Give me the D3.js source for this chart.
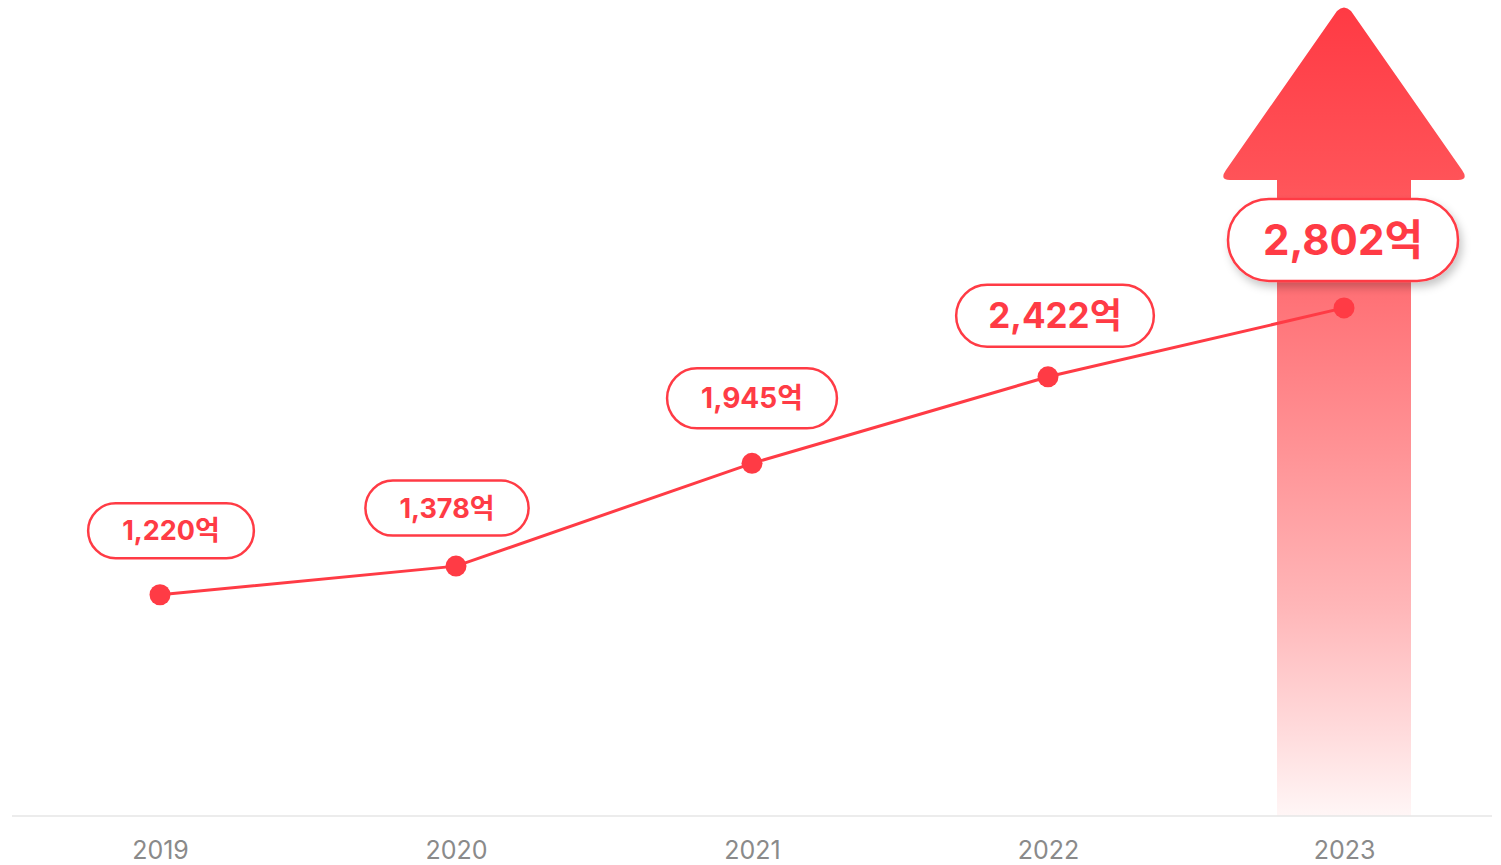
<!DOCTYPE html>
<html><head><meta charset="utf-8">
<script src="https://cdn.jsdelivr.net/npm/d3@7"></script>
<style>
html,body{margin:0;padding:0;background:#fff;}
svg{display:block;}
</style></head>
<body>
<svg id="chart" width="1501" height="865"></svg>
<script>
const years = ["2019","2020","2021","2022","2023"];
const values = [1220, 1378, 1945, 2422, 2802];
const valueLabels = ["1,220억","1,378억","1,945억","2,422억","2,802억"];

const W = 1501, H = 865;
const svg = d3.select("#chart");
const red = "#ff3b45";
const baseY = 816;

const x = d3.scalePoint().domain(years).range([160, 1344]);
const y = d3.scaleLinear().domain([0, 4500]).range([baseY, 0]);

const defs = svg.append("defs");
const grad = defs.append("linearGradient").attr("id","arrowGrad")
  .attr("gradientUnits","userSpaceOnUse").attr("x1",0).attr("x2",0).attr("y1",8).attr("y2",baseY);
[[0,"#ff3a44"],[0.22,"#ff5459"],[0.36,"#ff7277"],[0.55,"#ff9396"],[0.74,"#ffb6b8"],[0.9,"#ffdcdd"],[1,"#fff6f6"]]
  .forEach(([o,c])=>grad.append("stop").attr("offset",o).attr("stop-color",c));
const shadow = defs.append("filter").attr("id","shadow").attr("x","-20%").attr("y","-30%").attr("width","140%").attr("height","170%");
shadow.append("feDropShadow").attr("dx",3).attr("dy",5).attr("stdDeviation",4).attr("flood-color","#000").attr("flood-opacity",0.22);

// arrow behind last point
const ax = x(years[years.length-1]);
const shaftHalf = 67, headHalf = 121, headTop = 8, headBase = 180, r = 7;
const arrowPath = d3.path();
arrowPath.moveTo(ax - shaftHalf, baseY);
arrowPath.lineTo(ax - shaftHalf, headBase);
arrowPath.lineTo(ax - headHalf + r, headBase);
arrowPath.quadraticCurveTo(ax - headHalf - 4, headBase, ax - headHalf + 3, headBase - 10);
arrowPath.lineTo(ax - 7, headTop + 3);
arrowPath.quadraticCurveTo(ax, headTop - 4, ax + 7, headTop + 3);
arrowPath.lineTo(ax + headHalf - 3, headBase - 10);
arrowPath.quadraticCurveTo(ax + headHalf + 4, headBase, ax + headHalf - r, headBase);
arrowPath.lineTo(ax + shaftHalf, headBase);
arrowPath.lineTo(ax + shaftHalf, baseY);
arrowPath.closePath();
svg.append("path").attr("d", arrowPath.toString()).attr("fill","url(#arrowGrad)");

// baseline
svg.append("line").attr("x1",12).attr("x2",1492).attr("y1",baseY).attr("y2",baseY)
  .attr("stroke","#e6e6e6").attr("stroke-width",1.5);

// x axis labels
const xAxis = d3.axisBottom(x).tickSize(0).tickPadding(0);
const gx = svg.append("g").attr("transform",`translate(0,${baseY})`).call(xAxis);
gx.select(".domain").remove();
gx.selectAll("text").attr("y",35).attr("dy","0.32em")
  .attr("font-family","Inter, 'Noto Sans', sans-serif").attr("font-size",25)
  .attr("fill","#8a8a8a").attr("font-weight",400);

// line
const data = years.map((yr,i)=>({yr, v: values[i], label: valueLabels[i], i}));
svg.append("path").datum(data)
  .attr("d", d3.line().x(d=>x(d.yr)).y(d=>y(d.v)))
  .attr("fill","none").attr("stroke",red).attr("stroke-width",3);

svg.selectAll("circle.pt").data(data).join("circle").attr("class","pt")
  .attr("cx",d=>x(d.yr)).attr("cy",d=>y(d.v)).attr("r",10.5).attr("fill",red);

// labels
const fontSizes = [27, 27, 28, 35, 42];
const boxH = [55, 55, 60, 62, 82];
const padX = [34, 34, 34, 32, 35];
const offX = [11, -9, 0, 7, -1];
const offY = [-64, -58, -65, -61, -68];
data.forEach((d,i)=>{
  const cx = x(d.yr) + offX[i], cy = y(d.v) + offY[i];
  const g = svg.append("g");
  const rect = g.append("rect");
  const t = g.append("text").attr("x",cx).attr("y",cy).attr("dy","0.36em")
    .attr("text-anchor","middle")
    .attr("font-family","Inter, 'Noto Sans CJK KR', sans-serif")
    .attr("font-weight",700).attr("font-size",fontSizes[i]).attr("fill",red)
    .text(d.label);
  const bb = t.node().getBBox();
  const w = bb.width + padX[i]*2;
  rect.attr("x",cx - w/2).attr("y",cy - boxH[i]/2).attr("width",w).attr("height",boxH[i])
    .attr("rx",boxH[i]/2).attr("fill","#fff").attr("stroke",red).attr("stroke-width",2.5);
  if (i === data.length-1) rect.attr("filter","url(#shadow)");
});
</script>
</body></html>
